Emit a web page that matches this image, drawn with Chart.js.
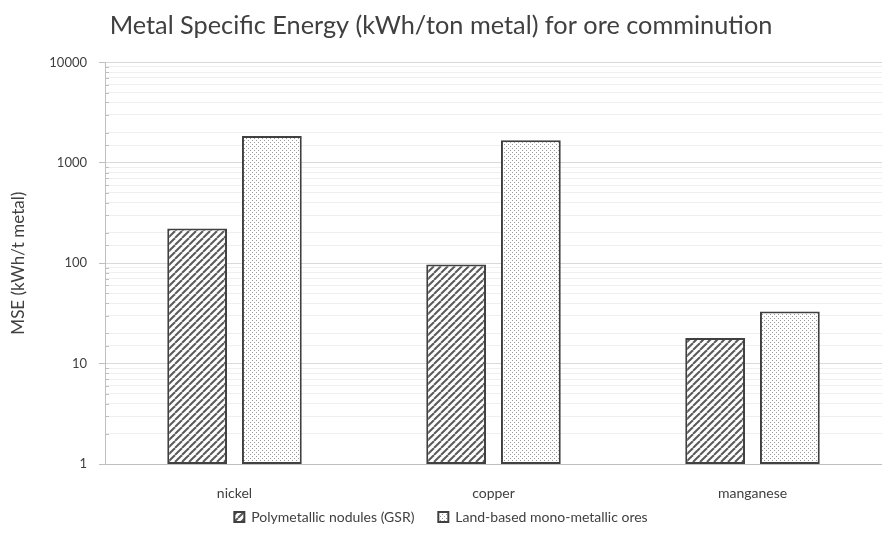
<!DOCTYPE html>
<html>
<head>
<meta charset="utf-8">
<title>Metal Specific Energy</title>
<script src="https://cdn.jsdelivr.net/npm/chart.js@4/dist/chart.umd.min.js"></script>
<style>
  html, body { margin: 0; padding: 0; background: #fff; }
</style>
</head>
<body>
<canvas id="mseChart" width="882" height="552"></canvas>
<script>
// categories along the x axis
const metals = ['nickel', 'copper', 'manganese'];

// MSE values, kWh per tonne of metal
const nodulesMSE = [221, 97, 18];
const landOresMSE = [1850, 1680, 33];

const seriesNames = ['Polymetallic nodules (GSR)', 'Land-based mono-metallic ores'];

const ink = '#404040';
Chart.defaults.font.family = 'Lato, "Open Sans", sans-serif';
Chart.defaults.color = ink;

// only the powers of ten get a label and a darker grid line
function isDecade(v) {
  const e = Math.log10(v);
  return Math.abs(e - Math.round(e)) < 1e-9;
}

// diagonal hatch fill
function hatchPattern() {
  const s = 7;
  const c = document.createElement('canvas');
  c.width = s; c.height = s;
  const g = c.getContext('2d');
  g.fillStyle = '#fff';
  g.fillRect(0, 0, s, s);
  g.strokeStyle = '#5a5a5a';
  g.lineWidth = 2;
  for (const o of [-s, 0, s]) {
    g.beginPath();
    g.moveTo(o, s);
    g.lineTo(o + s, 0);
    g.stroke();
  }
  return g.createPattern(c, 'repeat');
}

// fine dotted fill
function dotPattern() {
  const s = 4;
  const c = document.createElement('canvas');
  c.width = s; c.height = s;
  const g = c.getContext('2d');
  g.fillStyle = '#fff';
  g.fillRect(0, 0, s, s);
  g.fillStyle = '#9a9a9a';
  g.fillRect(0, 0, 1, 1);
  g.fillRect(2, 2, 1, 1);
  return g.createPattern(c, 'repeat');
}

// short inside marks on the value axis for the minor steps
const minorTicks = {
  id: 'minorTicks',
  afterDraw(chart) {
    const y = chart.scales.y;
    const ctx = chart.ctx;
    ctx.save();
    ctx.strokeStyle = '#bfbfbf';
    ctx.lineWidth = 1;
    y.ticks.forEach(t => {
      if (isDecade(t.value)) return;
      const py = Math.round(y.getPixelForValue(t.value)) + 0.5;
      ctx.beginPath();
      ctx.moveTo(y.right, py);
      ctx.lineTo(y.right + 4, py);
      ctx.stroke();
    });
    ctx.restore();
  }
};

const barStyle = {
  borderColor: ink,
  borderWidth: 2,
  borderSkipped: false,
  categoryPercentage: 0.577,
  barPercentage: 0.8
};

const data = {
  labels: metals,
  datasets: [
    Object.assign({ label: seriesNames[0], data: nodulesMSE, backgroundColor: hatchPattern() }, barStyle),
    Object.assign({ label: seriesNames[1], data: landOresMSE, backgroundColor: dotPattern() }, barStyle)
  ]
};

// default legend items, with a wider gap after the first one
function legendItems(chart) {
  const items = Chart.defaults.plugins.legend.labels.generateLabels(chart);
  items[0].text += '     ';
  return items;
}

const config = {
  type: 'bar',
  data: data,
  options: {
    responsive: false,
    animation: false,
    layout: { padding: { left: 0, right: 0, top: 0, bottom: 18 } },
    plugins: {
      title: {
        display: true,
        text: 'Metal Specific Energy (kWh/ton metal) for ore comminution',
        color: ink,
        font: { size: 25.3, weight: 'normal' },
        padding: { top: 11, bottom: 21 }
      },
      legend: {
        position: 'bottom',
        labels: {
          boxWidth: 10,
          boxHeight: 10,
          padding: 6,
          color: ink,
          font: { size: 14 },
          generateLabels: legendItems
        }
      },
      tooltip: { enabled: false }
    },
    scales: {
      x: {
        grid: { display: false },
        border: { color: '#bfbfbf', width: 1 },
        ticks: { color: ink, font: { size: 14 }, padding: 13 },
        afterFit: s => { s.height = 40; }
      },
      y: {
        type: 'logarithmic',
        min: 1,
        max: 10000,
        afterFit: s => { s.width = 105; },
        border: { color: '#bfbfbf', width: 1 },
        grid: {
          color: c => (c.tick && isDecade(c.tick.value)) ? '#d9d9d9' : '#efefef',
          tickLength: 6,
          tickColor: c => (c.tick && isDecade(c.tick.value)) ? '#bfbfbf' : 'rgba(0,0,0,0)'
        },
        ticks: {
          autoSkip: false,
          padding: 12,
          color: ink,
          font: { size: 13 },
          callback: v => isDecade(v) ? String(v) : ''
        },
        title: {
          display: true,
          text: 'MSE (kWh/t metal)',
          color: ink,
          font: { size: 17 },
          padding: { top: 8, bottom: 0 }
        }
      }
    }
  },
  plugins: [minorTicks]
};

const mseChart = new Chart(document.getElementById('mseChart'), config);
</script>
</body>
</html>
